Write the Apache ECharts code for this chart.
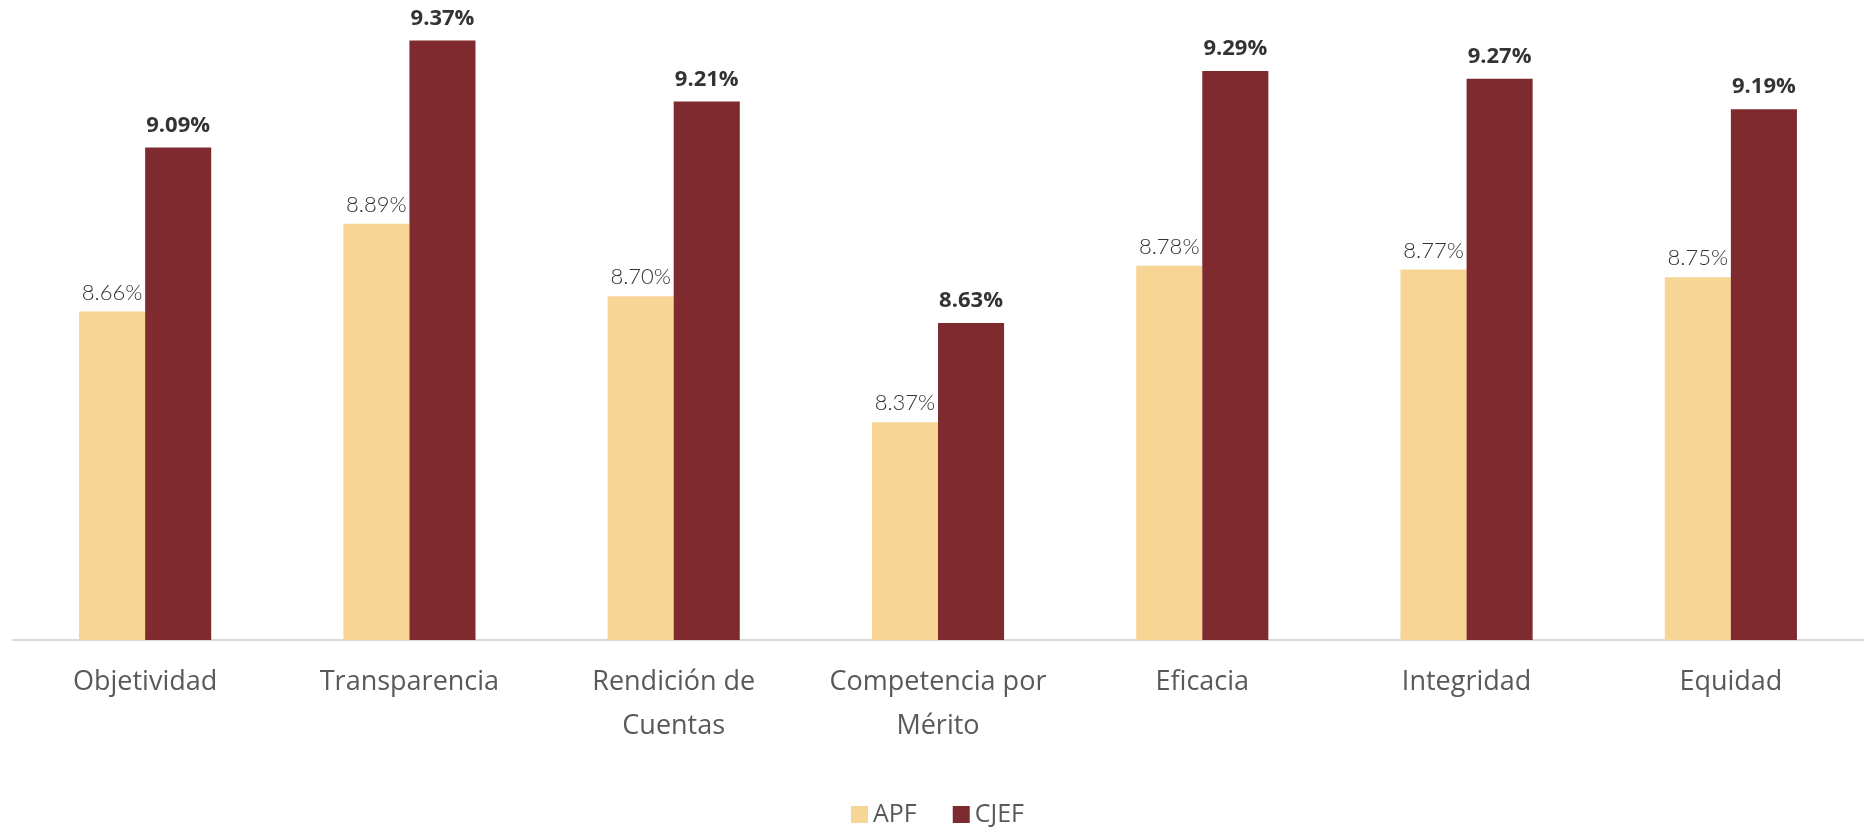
<!DOCTYPE html>
<html>
<head>
<meta charset="utf-8">
<script src="https://cdn.jsdelivr.net/npm/echarts@6/dist/echarts.min.js"></script>
<style>
    html, body { margin: 0; padding: 0; background: #ffffff; }
    #chart { width: 1875px; height: 832px; }
</style>
</head>
<body>
<div id="chart"></div>
<script>
const categories = ['Objetividad', 'Transparencia', 'Rendición de\nCuentas', 'Competencia por\nMérito', 'Eficacia', 'Integridad', 'Equidad']
const apf  = [8.66, 8.89, 8.70, 8.37, 8.78, 8.77, 8.75]
const cjef = [9.09, 9.37, 9.21, 8.63, 9.29, 9.27, 9.19]

const chart = echarts.init(document.getElementById('chart'))

chart.setOption({
    animation: false,
    grid: { left: 13, right: 12, top: 29, bottom: 192 },
    legend: {
        bottom: 0,
        left: 'center',
        itemWidth: 17,
        itemHeight: 17,
        itemGap: 36,
        icon: 'rect',
        textStyle: { color: '#595959', fontSize: 25, fontFamily: 'Open Sans' },
        data: ['APF', 'CJEF'],
    },
    xAxis: {
        type: 'category',
        data: categories,
        axisLine:  { lineStyle: { color: '#d9d9d9', width: 2 } },
        axisTick:  { show: false },
        axisLabel: {
            color: '#595959',
            fontSize: 27,
            lineHeight: 44,
            margin: 20,
            fontFamily: 'Open Sans',
            interval: 0,
        },
    },
    yAxis: {
        type: 'value',
        min: 7.8,
        max: 9.4,
        interval: 0.2,
        show: false,
        splitLine: { show: false },
    },
    series: [
        {
            name: 'APF',
            type: 'bar',
            data: apf,
            barWidth: '25%',
            barGap: '0%',
            itemStyle: { color: '#f7d595' },
            label: {
                show: true,
                position: 'top',
                distance: 8,
                color: '#333333',
                fontSize: 22,
                fontWeight: 300,
                fontFamily: 'Lato',
                formatter: p => p.value.toFixed(2) + '%',
            },
        },
        {
            name: 'CJEF',
            type: 'bar',
            data: cjef,
            barWidth: '25%',
            itemStyle: { color: '#7e2a2e' },
            label: {
                show: true,
                position: 'top',
                distance: 11,
                color: '#333333',
                fontSize: 22,
                fontWeight: 'bold',
                fontFamily: 'Open Sans',
                formatter: p => p.value.toFixed(2) + '%',
            },
        },
    ],
})
</script>
</body>
</html>
